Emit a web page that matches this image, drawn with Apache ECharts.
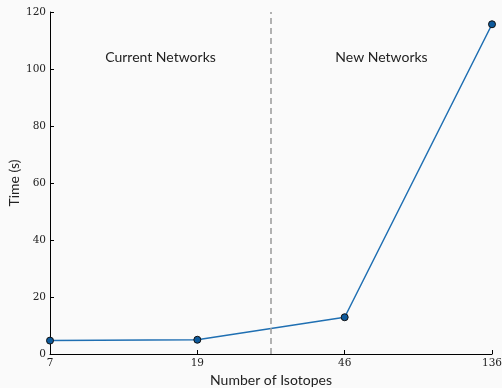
<!DOCTYPE html>
<html><head><meta charset="utf-8">
<script src="https://cdn.jsdelivr.net/npm/echarts@6/dist/echarts.min.js"></script>
<style>html,body{margin:0;padding:0;background:#fafafa}#c{width:502px;height:388px}</style>
</head><body><div id="c"></div>
<script>
var categories = ['7', '19', '46', '136'];
var timeValues = [4.7, 5.0, 12.9, 115.7];
var yTicks = [0, 20, 40, 60, 80, 100, 120];
var regionLabels = ['Current Networks', 'New Networks'];

var chart = echarts.init(document.getElementById('c'));
var pts = timeValues.map(function (v, i) { return [i, v]; });
chart.setOption({
  backgroundColor: '#fafafa',
  animation: false,
  grid: { left: 50, right: 10, top: 12, bottom: 34, containLabel: false, outerBoundsMode: 'none' },
  xAxis: {
    type: 'value', min: 0, max: categories.length - 1, interval: 1,
    name: 'Number of Isotopes', nameLocation: 'middle', nameGap: 19,
    nameTextStyle: { fontFamily: 'Lato', fontSize: 14, color: '#222' },
    axisLine: { lineStyle: { color: '#000', width: 1 } },
    axisTick: { inside: true, length: 4, lineStyle: { color: '#000' } },
    axisLabel: { formatter: function (v) { return categories[v]; }, fontFamily: 'DejaVu Serif', fontSize: 10.5, color: '#222', margin: 4 },
    splitLine: { show: false }
  },
  yAxis: {
    type: 'value', min: yTicks[0], max: yTicks[yTicks.length - 1], interval: 20,
    name: 'Time (s)', nameLocation: 'middle', nameGap: 29, nameMoveOverlap: false,
    nameTextStyle: { fontFamily: 'Lato', fontSize: 14, color: '#222' },
    axisLine: { show: true, lineStyle: { color: '#000', width: 1 } },
    axisTick: { show: true, inside: true, length: 4, lineStyle: { color: '#000' } },
    axisLabel: { fontFamily: 'DejaVu Serif', fontSize: 10.5, color: '#222', margin: 4 },
    splitLine: { show: false }
  },
  series: [{
    type: 'line', data: pts,
    lineStyle: { color: '#1f6fb2', width: 1.5 },
    symbol: 'circle', symbolSize: 7,
    itemStyle: { color: '#0d5a9c', borderColor: '#111', borderWidth: 1 },
    markLine: {
      silent: true, symbol: 'none', label: { show: false },
      lineStyle: { color: '#999', type: [6, 4], width: 1.5 },
      data: [{ xAxis: (1 + 2) / 2 }]
    },
    markPoint: {
      silent: true, symbol: 'circle', symbolSize: 0,
      label: { show: true, position: 'inside', fontFamily: 'Lato', fontSize: 14, color: '#222' },
      data: [
        { coord: [0.75, 104], value: regionLabels[0], label: { formatter: regionLabels[0] } },
        { coord: [2.25, 104], value: regionLabels[1], label: { formatter: regionLabels[1] } }
      ]
    }
  }]
});
</script></body></html>
